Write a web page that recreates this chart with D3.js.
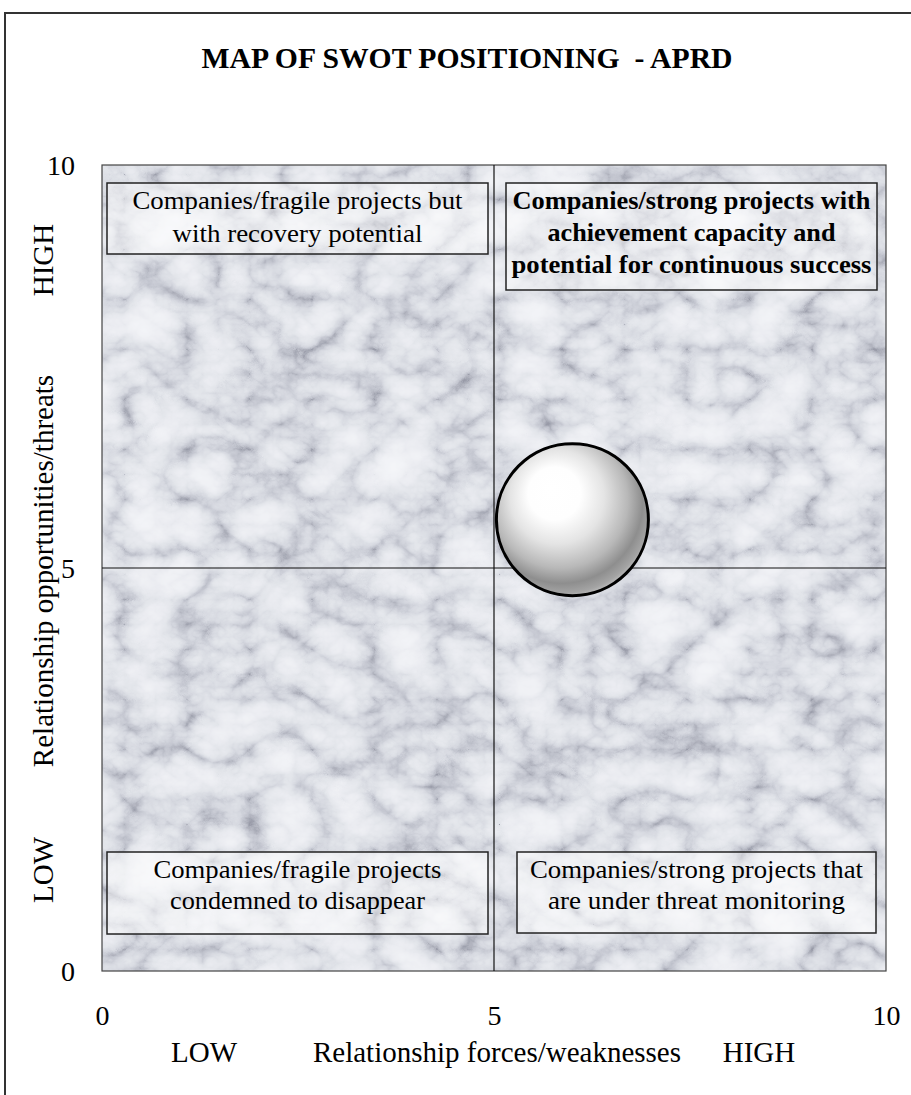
<!DOCTYPE html>
<html>
<head>
<meta charset="utf-8">
<script src="https://cdn.jsdelivr.net/npm/d3@7"></script>
<style>
html,body{margin:0;padding:0;background:#fff;}
svg{display:block;}
text{font-family:"Liberation Serif","Times New Roman",serif;fill:#000;}
</style>
</head>
<body>
<script>
// ---- data ----
const chartTitle = "MAP OF SWOT POSITIONING  - APRD";
const xTicks = [0, 5, 10];
const yTicks = [0, 5, 10];
const xAxisTitle = "Relationship forces/weaknesses";
const yAxisTitle = "Relationship opportunities/threats";
const lowLabel = "LOW";
const highLabel = "HIGH";
const bubbleX = [6.0];
const bubbleY = [5.6];
const quadrantNames = ["topLeft", "topRight", "bottomLeft", "bottomRight"];
const quadrantLines = [
  ["Companies/fragile projects but", "with recovery potential"],
  ["Companies/strong projects with", "achievement capacity and", "potential for continuous success"],
  ["Companies/fragile projects", "condemned to disappear"],
  ["Companies/strong projects that", "are under threat monitoring"]
];

// ---- layout ----
const W = 911, H = 1095;
const svg = d3.select("body").append("svg").attr("width", W).attr("height", H);
const defs = svg.append("defs");

// marble texture
const f = defs.append("filter").attr("id", "marble")
  .attr("x", 0).attr("y", 0).attr("width", 1).attr("height", 1)
  .attr("color-interpolation-filters", "sRGB");
f.append("feTurbulence").attr("type", "turbulence").attr("baseFrequency", "0.016 0.02")
  .attr("numOctaves", 5).attr("seed", 11).attr("result", "t1");
f.append("feColorMatrix").attr("in", "t1").attr("type", "matrix")
  .attr("values", "1 0 0 0 0  1 0 0 0 0  1 0 0 0 0  0 0 0 0 1").attr("result", "g1");
f.append("feTurbulence").attr("type", "fractalNoise").attr("baseFrequency", "0.025 0.03")
  .attr("numOctaves", 4).attr("seed", 4).attr("result", "t2");
f.append("feColorMatrix").attr("in", "t2").attr("type", "matrix")
  .attr("values", "0 1 0 0 0  0 1 0 0 0  0 1 0 0 0  0 0 0 0 1").attr("result", "g2");
f.append("feComposite").attr("in", "g1").attr("in2", "g2").attr("operator", "arithmetic")
  .attr("k1", 0).attr("k2", 0.9).attr("k3", 0.4).attr("k4", -0.12).attr("result", "mix");
const ct = f.append("feComponentTransfer").attr("in", "mix");
ct.append("feFuncR").attr("type", "table").attr("tableValues", "0.60 0.75 0.84 0.89 0.92 0.94 0.95 0.96");
ct.append("feFuncG").attr("type", "table").attr("tableValues", "0.61 0.76 0.85 0.90 0.925 0.945 0.955 0.965");
ct.append("feFuncB").attr("type", "table").attr("tableValues", "0.66 0.80 0.88 0.92 0.945 0.96 0.97 0.975");

// bubble gradient
const rg = defs.append("radialGradient").attr("id", "ball")
  .attr("cx", "0.44").attr("cy", "0.4").attr("r", "0.62").attr("fx", "0.36").attr("fy", "0.3");
[[0, "#ffffff"], [0.28, "#fefefe"], [0.5, "#e4e4e4"], [0.72, "#b8b8b8"], [0.86, "#8e8e8e"], [0.95, "#a4a4a4"], [1, "#c0c0c0"]]
  .forEach(([o, c]) => rg.append("stop").attr("offset", o).attr("stop-color", c));

// outer frame
svg.append("path").attr("d", `M5,${H + 5} L5,13 L${W + 5},13`)
  .attr("fill", "none").attr("stroke", "#333").attr("stroke-width", 2);

// title
svg.append("text").attr("x", 467).attr("y", 68).attr("text-anchor", "middle")
  .style("white-space", "pre")
  .attr("font-size", 30).attr("font-weight", "bold")
  .attr("textLength", 531).attr("lengthAdjust", "spacingAndGlyphs").text(chartTitle);

const x = d3.scaleLinear().domain([0, 10]).range([102, 886]);
const y = d3.scaleLinear().domain([0, 10]).range([971, 165]);

// plot background
svg.append("rect").attr("x", x(0)).attr("y", y(10))
  .attr("width", x(10) - x(0)).attr("height", y(0) - y(10))
  .attr("filter", "url(#marble)");
svg.append("rect").attr("x", x(0)).attr("y", y(10))
  .attr("width", x(10) - x(0)).attr("height", y(0) - y(10))
  .attr("fill", "none").attr("stroke", "#444").attr("stroke-width", 1.2);

// quadrant lines
svg.append("line").attr("x1", x(5)).attr("x2", x(5)).attr("y1", y(0)).attr("y2", y(10))
  .attr("stroke", "#111").attr("stroke-width", 1.2);
svg.append("line").attr("x1", x(0)).attr("x2", x(10)).attr("y1", y(5)).attr("y2", y(5))
  .attr("stroke", "#111").attr("stroke-width", 1.2);

// quadrant boxes
const boxes = {
  topLeft:     {x0: x(0) + 5, x1: x(5) - 6, y0: 183, y1: 254, base: [209, 242], len: [330, 250], bold: false},
  topRight:    {x0: x(5) + 12, x1: x(10) - 9, y0: 183, y1: 290, base: [209, 241, 273], len: [358, 288, 360], bold: true},
  bottomLeft:  {x0: x(0) + 5, x1: x(5) - 6, y0: 852, y1: 934, base: [878, 909], len: [288, 255], bold: false},
  bottomRight: {x0: x(5) + 23, x1: x(10) - 10, y0: 852, y1: 933, base: [878, 909], len: [333, 297], bold: false}
};
quadrantNames.forEach((name, i) => {
  const b = boxes[name];
  const g = svg.append("g");
  g.append("rect").attr("x", b.x0).attr("y", b.y0).attr("width", b.x1 - b.x0).attr("height", b.y1 - b.y0)
    .attr("fill", "rgba(255,255,255,0.45)").attr("stroke", "#222").attr("stroke-width", 1.5);
  const cx = (b.x0 + b.x1) / 2;
  quadrantLines[i].forEach((ln, j) => {
    g.append("text").attr("x", cx).attr("y", b.base[j]).attr("text-anchor", "middle")
      .attr("font-size", 26).attr("font-weight", b.bold ? "bold" : "normal")
      .attr("textLength", b.len[j]).attr("lengthAdjust", "spacingAndGlyphs").text(ln);
  });
});

// bubble
svg.selectAll("circle.bubble").data(bubbleX.map((v, i) => [v, bubbleY[i]])).join("circle")
  .attr("class", "bubble").attr("cx", d => x(d[0])).attr("cy", d => y(d[1])).attr("r", 76)
  .attr("fill", "url(#ball)").attr("stroke", "#000").attr("stroke-width", 3);

// axes
const xAxis = svg.append("g").attr("transform", "translate(0,1025)")
  .call(d3.axisBottom(x).tickValues(xTicks).tickSize(0).tickFormat(d3.format("d")));
xAxis.select(".domain").remove();
xAxis.selectAll("text").attr("y", 0).attr("dy", 0).attr("font-size", 28)
  .attr("font-family", "Liberation Serif").attr("fill", "#000");

const yAxis = svg.append("g").attr("transform", "translate(75,0)")
  .call(d3.axisLeft(y).tickValues(yTicks).tickSize(0).tickPadding(0).tickFormat(d3.format("d")));
yAxis.select(".domain").remove();
yAxis.selectAll("text").attr("dy", "0.34em").attr("font-size", 28)
  .attr("font-family", "Liberation Serif").attr("fill", "#000");

// axis titles
const xt = [[204, lowLabel], [497, xAxisTitle], [759, highLabel]];
xt.forEach(([cx, t]) => svg.append("text").attr("x", cx).attr("y", 1062)
  .attr("text-anchor", "middle").attr("font-size", 29).text(t));
const yt = [[260, highLabel], [571, yAxisTitle], [870, lowLabel]];
yt.forEach(([cy, t]) => svg.append("text").attr("transform", `translate(53,${cy}) rotate(-90)`)
  .attr("text-anchor", "middle").attr("font-size", 29).text(t));
</script>
</body>
</html>
